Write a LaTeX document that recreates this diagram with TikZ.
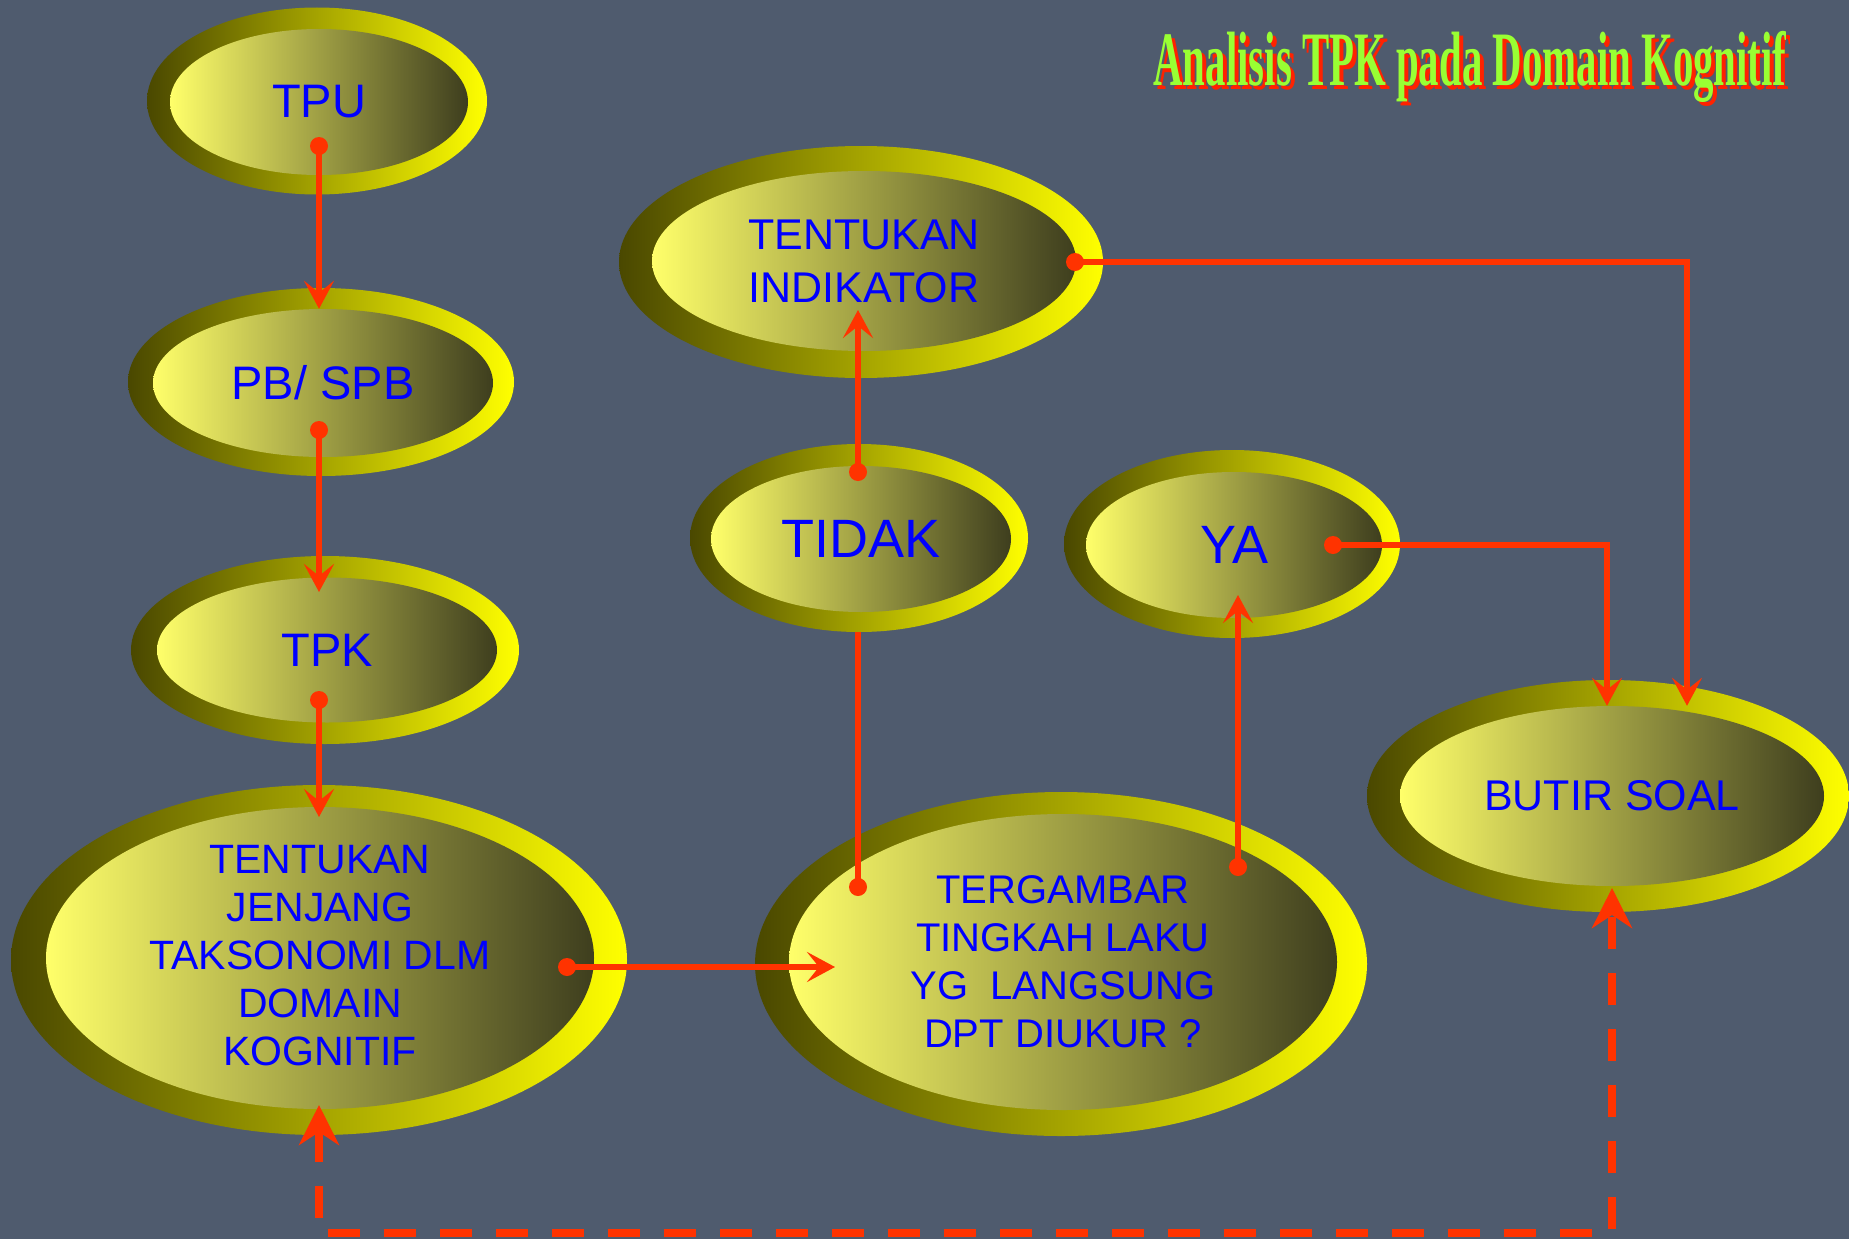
\documentclass[tikz,border=0pt]{standalone}
\usepackage{graphicx}
\usepackage{fontspec}
\setmainfont{Liberation Sans}
\newfontfamily\titlefont{Liberation Serif}
\usetikzlibrary{arrows.meta,shapes.geometric}
\definecolor{bg}{HTML}{4F5B6E}
\definecolor{ringL}{HTML}{4A4800}
\definecolor{ringR}{HTML}{FFFF00}
\definecolor{bodyL}{HTML}{FFFF6A}
\definecolor{bodyR}{HTML}{3E3E1E}
\definecolor{txtblue}{HTML}{0000FF}
\definecolor{linered}{HTML}{FF3300}
\definecolor{titlegreen}{HTML}{99FF33}
\definecolor{titlered}{HTML}{FF2200}
\begin{document}
\begin{tikzpicture}[x=1pt,y=-1pt,
  ring/.style={ellipse, inner sep=0pt, draw=none, left color=ringL, right color=ringR},
  body/.style={ellipse, inner sep=0pt, draw=none, left color=bodyL, right color=bodyR},
  lbl/.style={text=txtblue, align=center, inner sep=0pt},
  conn/.style={draw=linered, line width=6pt},
  arr/.style={conn, -{Stealth[length=28pt,width=30pt,inset=12pt]}},
  dashconn/.style={draw=linered, line width=8pt, dash pattern=on 32pt off 24pt,
    {Stealth[length=40pt,width=40pt,inset=13pt]}-{Stealth[length=40pt,width=40pt,inset=13pt]}},
  dot/.style={circle, fill=linered, inner sep=0pt, minimum size=18pt},
  titletext/.style={anchor=base, inner sep=0pt, font=\titlefont\bfseries\fontsize{77}{86}\selectfont},
  ]
\fill[bg] (0,0) rectangle (1849,1239);
\useasboundingbox (0,0) rectangle (1849,1239);

% title
\node[titletext, text=titlered] (titleS) at (1474,90)
  {\resizebox{633pt}{\height}{Analisis TPK pada Domain Kognitif}};
\node[titletext, text=titlegreen] (title) at (1470,86)
  {\resizebox{633pt}{\height}{Analisis TPK pada Domain Kognitif}};

% TPU
\node[ring, minimum width=340pt, minimum height=187pt] (tpuO) at (317,101) {};
\node[body, minimum width=298pt, minimum height=146pt] (tpu) at (319,102) {};
\node[lbl, font=\fontsize{47}{56}\selectfont] (tpuT) at (tpu.center) {TPU};
% PB/SPB
\node[ring, minimum width=386pt, minimum height=188pt] (pbO) at (321,382) {};
\node[body, minimum width=340pt, minimum height=148pt] (pb) at (323,383) {};
\node[lbl, font=\fontsize{47}{56}\selectfont] (pbT) at (pb.center) {PB/ SPB};
% TPK
\node[ring, minimum width=388pt, minimum height=188pt] (tpkO) at (325,650) {};
\node[body, minimum width=340pt, minimum height=145pt] (tpk) at (327,650) {};
\node[lbl, font=\fontsize{47}{56}\selectfont] (tpkT) at (tpk.center) {TPK};
% JENJANG
\node[ring, minimum width=616pt, minimum height=350pt] (jenO) at (319,960) {};
\node[body, minimum width=548pt, minimum height=302pt] (jen) at (320,958) {};
\node[lbl, font=\fontsize{41}{48}\selectfont] (jenT) at ([yshift=2pt]jen.center) {TENTUKAN\\JENJANG\\TAKSONOMI DLM\\DOMAIN\\KOGNITIF};
% INDIKATOR
\node[ring, minimum width=484pt, minimum height=232pt] (indO) at (861,262) {};
\node[body, minimum width=424pt, minimum height=180pt] (ind) at (864,261) {};
\node[lbl, font=\fontsize{43}{53}\selectfont] (indT) at (ind.center) {TENTUKAN\\INDIKATOR};
% TIDAK
\node[ring, minimum width=338pt, minimum height=188pt] (tidO) at (859,538) {};
\node[body, minimum width=300pt, minimum height=146pt] (tid) at (861,539) {};
\node[lbl, font=\fontsize{54}{60}\selectfont] (tidT) at (tid.center) {TIDAK};
% YA
\node[ring, minimum width=336pt, minimum height=188pt] (yaO) at (1232,544) {};
\node[body, minimum width=296pt, minimum height=146pt] (ya) at (1234,545) {};
\node[lbl, font=\fontsize{54}{60}\selectfont] (yaT) at (ya.center) {YA};
% BUTIR SOAL
\node[ring, minimum width=482pt, minimum height=232pt] (butO) at (1608,796) {};
\node[body, minimum width=424pt, minimum height=180pt] (but) at (1612,796) {};
\node[lbl, font=\fontsize{43}{50}\selectfont] (butT) at (but.center) {BUTIR SOAL};
% TERGAMBAR
\node[ring, minimum width=612pt, minimum height=344pt] (terO) at (1061,964) {};
\node[body, minimum width=548pt, minimum height=296pt] (ter) at (1063,962) {};
\node[lbl, font=\fontsize{40}{48}\selectfont] (terT) at (ter.center) {TERGAMBAR\\TINGKAH LAKU\\YG~~LANGSUNG\\DPT DIUKUR ?};

% connector end points
\coordinate (e2) at (319,592);
\coordinate (e3) at (319,817);
\coordinate (e4) at (835,967);
\coordinate (e5) at (858,310);
\coordinate (e6) at (1238,595);
\coordinate (k1) at (1687,262);
\coordinate (k2) at (1607,545);
\coordinate (dj) at (319,1105);
\coordinate (db) at (1612,888);
\coordinate (c1) at (319,1233);
\coordinate (c2) at (1612,1233);

% dots
\node[dot] (d1) at (319,146) {};
\node[dot] (d2) at (319,430) {};
\node[dot] (d3) at (319,700) {};
\node[dot] (d4) at (567,967) {};
\node[dot] (d5) at (858,472) {};
\node[dot] (d6) at (858,887) {};
\node[dot] (d7) at (1238,867) {};
\node[dot] (d8) at (1075,262) {};
\node[dot] (d9) at (1333,545) {};

% connectors
\draw[arr] (d1.center) -- (d1.center |- pb.north);
\draw[arr] (d2.center) -- (e2);
\draw[arr] (d3.center) -- (e3);
\draw[arr] (d4.center) -- (e4);
\draw[arr] (d5.center) -- (e5);
\draw[conn] (d6.center) -- (d6.center |- tidO.south);
\draw[arr] (d7.center) -- (e6);
\draw[arr] (d8.center) -- (k1) -- (k1 |- but.north);
\draw[arr] (d9.center) -- (k2) -- (k2 |- but.north);
\draw[dashconn] (dj) -- (c1) -- (c2) -- (db);
\end{tikzpicture}
\end{document}
